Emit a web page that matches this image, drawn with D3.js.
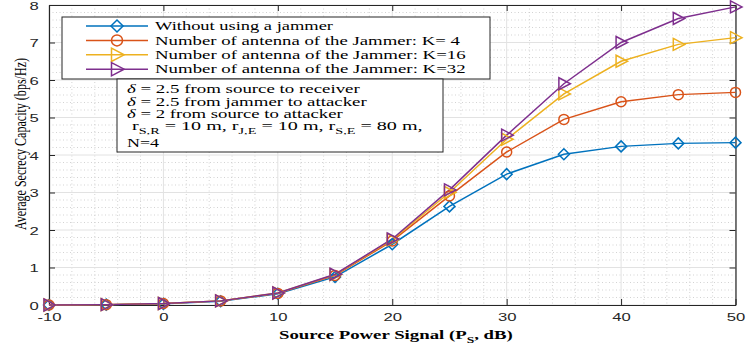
<!DOCTYPE html>
<html><head><meta charset="utf-8">
<script src="https://cdn.jsdelivr.net/npm/d3@7/dist/d3.min.js"></script>
<style>
body{margin:0;background:#fff;}
svg{display:block;}
</style></head>
<body>
<svg id="chart" width="747" height="343"></svg>
<script>
const powerDb = [-10,-5,0,5,10,15,20,25,30,35,40,45,50];
const noJammer = [0,0.01,0.03,0.1,0.3,0.75,1.62,2.63,3.49,4.02,4.23,4.31,4.33];
const jammerK4 = [0,0.01,0.04,0.11,0.31,0.79,1.71,2.91,4.08,4.95,5.42,5.61,5.67];
const jammerK16 = [0,0.01,0.04,0.11,0.32,0.81,1.74,3.0,4.42,5.63,6.5,6.95,7.13];
const jammerK32 = [0,0.01,0.04,0.11,0.32,0.82,1.76,3.07,4.53,5.9,7.0,7.64,7.95];
const seriesNames = ["Without using a jammer","Number of antenna of the Jammer: K= 4","Number of antenna of the Jammer: K=16","Number of antenna of the Jammer: K=32"];
const xTicks = [-10,0,10,20,30,40,50];
const yTicks = [0,1,2,3,4,5,6,7,8];
const annotationLines = ["= 2.5 from source to receiver","= 2.5 from jammer to attacker","= 2 from source to attacker"];

const colors = ["#0072BD","#D95319","#EDB120","#7E2F8E"];
const markers = ["diamond","circle","tri","tri"];
const allSeries = [noJammer,jammerK4,jammerK16,jammerK32];
const tf = "Liberation Serif, Times New Roman, serif";
const sf = "Liberation Sans, Arial, sans-serif";
const SX = 1.45; // horizontal stretch of the reference's glyphs

const svg = d3.select("#chart");
const L=49, R=735.5, T=5, B=305;
const x = d3.scaleLinear().domain([-10,50]).range([L,R]);
const y = d3.scaleLinear().domain([0,8]).range([B,T]);

// minor grid
const g = svg.append("g");
d3.range(-10,50.01,2).forEach(v=>{ if(v%10!==0) g.append("line").attr("x1",x(v)).attr("x2",x(v)).attr("y1",T).attr("y2",B).attr("stroke","#c8c8c8").attr("stroke-width",0.8).attr("stroke-dasharray","1,2.5");});
d3.range(0,8.001,0.2).forEach(v=>{ const r=Math.round(v*10); if(r%10!==0) g.append("line").attr("x1",L).attr("x2",R).attr("y1",y(v)).attr("y2",y(v)).attr("stroke","#c8c8c8").attr("stroke-width",0.8).attr("stroke-dasharray","1,2.5");});
// major grid
xTicks.forEach(v=>g.append("line").attr("x1",x(v)).attr("x2",x(v)).attr("y1",T).attr("y2",B).attr("stroke","#e2e2e2").attr("stroke-width",1));
yTicks.forEach(v=>g.append("line").attr("x1",L).attr("x2",R).attr("y1",y(v)).attr("y2",y(v)).attr("stroke","#e2e2e2").attr("stroke-width",1));

// axes
const fmt = d => String(d);
const axB = svg.append("g").attr("transform",`translate(0,${B})`).call(d3.axisBottom(x).tickValues(xTicks).tickFormat(fmt).tickSizeInner(-6).tickSizeOuter(0).tickPadding(8));
const axL = svg.append("g").attr("transform",`translate(${L},0)`).call(d3.axisLeft(y).tickValues(yTicks).tickFormat(fmt).tickSizeInner(-6).tickSizeOuter(0).tickPadding(7));
const axT = svg.append("g").attr("transform",`translate(0,${T})`).call(d3.axisTop(x).tickValues(xTicks).tickSizeInner(-6).tickSizeOuter(0).tickFormat(""));
const axR = svg.append("g").attr("transform",`translate(${R},0)`).call(d3.axisRight(y).tickValues(yTicks).tickSizeInner(-6).tickSizeOuter(0).tickFormat(""));
[axB,axL,axT,axR].forEach(a=>{a.select(".domain").attr("stroke","#262626").attr("stroke-width",1.2);a.selectAll(".tick line").attr("stroke","#262626");});
[axB,axL].forEach(a=>a.selectAll(".tick text").attr("font-family",sf).attr("font-size",11.5).attr("fill","#262626").attr("transform",`scale(${SX},1)`));
axL.selectAll(".tick text").attr("dy","0.36em");

// lines
const line = d3.line().x((d,i)=>x(powerDb[i])).y(d=>y(d));
allSeries.forEach((s,k)=>{
  svg.append("path").datum(s).attr("d",line).attr("fill","none").attr("stroke",colors[k]).attr("stroke-width",1.5);
});
function drawMarker(sel,type,cx,cy,col,sz){
  sz = sz||1;
  if(type==="diamond"){
    const a=5.5*sz;
    sel.append("path").attr("d",`M${cx},${cy-a}L${cx+a},${cy}L${cx},${cy+a}L${cx-a},${cy}Z`).attr("fill","none").attr("stroke",col).attr("stroke-width",1.5);
  } else if(type==="circle"){
    sel.append("circle").attr("cx",cx).attr("cy",cy).attr("r",5*sz).attr("fill","none").attr("stroke",col).attr("stroke-width",1.5);
  } else {
    sel.append("path").attr("d",`M${cx-5*sz},${cy-6*sz}L${cx+6.5*sz},${cy}L${cx-5*sz},${cy+6*sz}Z`).attr("fill","none").attr("stroke",col).attr("stroke-width",1.5);
  }
}
allSeries.forEach((s,k)=>{
  const mg = svg.append("g");
  s.forEach((v,i)=>drawMarker(mg,markers[k],x(powerDb[i]),y(v),colors[k]));
});

// helper: place a text left-anchored at (x0,y0) stretched to a target width
function fitText(parent, x0, y0, width, build){
  const gg = parent.append("g");
  const t = gg.append("text").attr("x",0).attr("y",0);
  build(t);
  const w = t.node().getComputedTextLength();
  gg.attr("transform",`translate(${x0},${y0}) scale(${width/w},1)`);
  return t;
}

// legend
const lg = svg.append("g");
lg.append("rect").attr("x",62).attr("y",17).attr("width",428).attr("height",62).attr("fill","#fff").attr("stroke","#262626").attr("stroke-width",1);
const legW = [178,305,311,311];
seriesNames.forEach((n,k)=>{
  const yy = 26 + k*14.4;
  lg.append("line").attr("x1",86).attr("x2",148).attr("y1",yy).attr("y2",yy).attr("stroke",colors[k]).attr("stroke-width",1.5);
  drawMarker(lg,markers[k],117,yy,colors[k],1.1);
  fitText(lg,155,yy+4.2,legW[k],t=>t.text(n).attr("font-family",tf).attr("font-size",12.5).attr("fill","#000"));
});

// annotation box
const ab = svg.append("g");
ab.append("rect").attr("x",117).attr("y",79).attr("width",326).attr("height",73).attr("fill","#fff").attr("stroke","#262626").attr("stroke-width",1);
const annW = [233,240,216];
annotationLines.forEach((s,i)=>{
  fitText(ab,127,93+i*12.5,annW[i],t=>{
    t.attr("font-family",tf).attr("font-size",12).attr("fill","#000");
    t.append("tspan").attr("font-style","italic").text("δ");
    t.append("tspan").text(" "+s);
  });
});
fitText(ab,132,130,291,t=>{
  t.attr("font-family",tf).attr("font-size",12).attr("fill","#000");
  [["r","S,R"," = 10 m,  "],["r","J,E"," = 10 m,  "],["r","S,E"," = 80 m,"]].forEach(p=>{
    t.append("tspan").text(p[0]);
    t.append("tspan").attr("font-size",8.5).attr("dy",3.5).text(p[1]);
    t.append("tspan").attr("dy",-3.5).text(p[2]);
  });
});
fitText(ab,127,147,32,t=>t.attr("font-family",tf).attr("font-size",12).attr("fill","#000").text("N=4"));

// x axis label
fitText(svg,279,339,234,t=>{
  t.attr("font-family",tf).attr("font-weight","bold").attr("font-size",12.5).attr("fill","#000");
  t.append("tspan").text("Source Power Signal (P");
  t.append("tspan").attr("font-size",9).attr("dy",3.5).text("S");
  t.append("tspan").attr("dy",-3.5).text(", dB)");
});

// y axis label
svg.append("text").attr("transform","translate(26,144) rotate(-90)").attr("text-anchor","middle").attr("font-family",tf).attr("font-size",17).attr("textLength",172).attr("lengthAdjust","spacingAndGlyphs").attr("fill","#000").text("Average Secrecy Capacity (bps/Hz)");
</script>
</body></html>
